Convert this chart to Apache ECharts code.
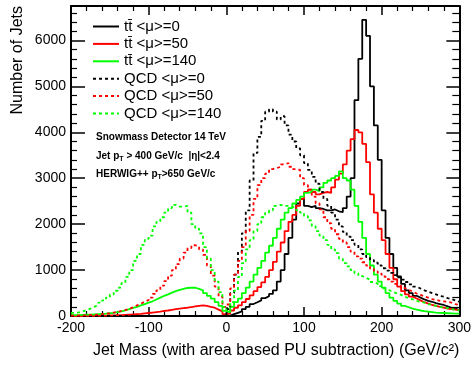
<!DOCTYPE html>
<html>
<head>
<meta charset="utf-8">
<script src="https://cdn.jsdelivr.net/npm/echarts@6/dist/echarts.min.js"></script>
<style>
  * { margin: 0; padding: 0; }
  #chart-container { width: 474px; height: 367px; background: #fff; }
</style>
</head>
<body>
<div id="chart-container"></div>
<script>
  // jet mass histograms, 5 GeV bins from -200 to 300 (left edges)
  var binStart = -200
  var binWidth = 5
  var binCount = 100
  var zeros40 = [0,0,0,0,0,0,0,0,0,0, 0,0,0,0,0,0,0,0,0,0, 0,0,0,0,0,0,0,0,0,0, 0,0,0,0,0,0,0,0,0,0]

  var ttMu0 = zeros40.concat([
    10,40,70,100,150,200,260,300,340,390, 430,480,560,750,1000,1350,1700,2100,2450,2550,
    2400,2370,2400,2350,2330,2300,2300,2320,2280,2260, 2350,2600,3000,4700,5600,6450,6100,5000,4150,3400,
    2300,1700,1350,1050,860,700,560,500,440,400, 360,330,310,280,260,240,210,180,160,130
  ])
  var ttMu50 = [
    0,0,0,5,5,5,10,10,10,15, 15,20,20,25,30,35,40,45,55,65,
    75,85,95,110,120,135,150,160,170,180, 195,210,220,230,220,200,180,140,100,40,
    50,120,180,230,300,370,450,540,630,730, 850,1000,1180,1400,1600,1850,2050,2200,2400,2550,
    2700,2750,2700,2650,2680,2700,2680,2800,2970,3100, 3300,3600,3850,4050,4000,3750,3350,2650,2250,1900,
    1650,1350,1050,800,640,540,470,420,380,340, 300,270,240,220,200,180,160,150,140,130
  ]
  var ttMu140 = [
    20,20,25,30,30,35,40,45,50,60, 70,85,100,120,150,175,200,230,260,290,
    320,360,400,440,470,510,540,570,590,610, 620,615,590,560,500,440,380,300,220,110,
    80,200,300,380,500,620,750,900,1050,1200, 1380,1530,1700,1900,2100,2250,2350,2450,2530,2600,
    2680,2700,2750,2720,2800,2900,2950,3000,3050,3150, 3000,2950,2750,2400,2050,1700,1350,1100,900,750,
    620,500,400,330,270,220,190,160,140,120, 105,95,85,75,70,65,60,55,50,50
  ]
  var qcdMu0 = zeros40.concat([
    150,500,900,1400,1800,2300,2950,3550,3900,4250, 4450,4500,4450,4280,4350,4150,3950,3800,3650,3500,
    3330,3180,3030,2880,2700,2550,2400,2250,2100,1950, 1830,1730,1650,1550,1450,1350,1280,1220,1160,1100,
    1040,990,940,890,840,790,740,690,640,600, 560,530,500,470,440,420,390,370,340,310
  ])
  var qcdMu50 = [
    10,10,15,15,20,25,30,40,50,60, 75,90,110,130,160,190,230,270,310,350,
    400,480,560,660,760,880,1000,1130,1250,1380, 1480,1540,1520,1450,1330,1100,880,640,420,200,
    250,600,900,1200,1500,1850,2200,2550,2850,3000, 3100,3200,3220,3250,3300,3330,3250,3200,3180,3000,
    2850,2750,2600,2450,2320,2150,2020,1900,1780,1680, 1600,1500,1400,1300,1250,1170,1100,1030,970,920,
    860,800,750,700,660,610,570,530,490,460, 430,400,370,350,330,320,310,290,260,240
  ]
  var qcdMu140 = [
    70,80,100,130,160,200,240,290,340,400, 470,550,620,720,850,1000,1200,1350,1550,1680,
    1750,1950,2050,2150,2250,2350,2420,2380,2380,2400, 2250,2000,1900,1800,1500,1250,1000,750,520,200,
    100,300,550,850,1150,1450,1650,1850,2000,2150, 2250,2300,2400,2420,2400,2400,2380,2350,2300,2250,
    2180,2080,1950,1850,1750,1650,1550,1450,1370,1250, 1150,1080,1000,930,870,830,790,740,700,650,
    600,560,520,490,460,420,390,360,330,310, 290,260,240,220,200,185,170,150,135,120
  ]

  var names = [
    'tt\u0304 <\u03bc>=0', 'tt\u0304 <\u03bc>=50', 'tt\u0304 <\u03bc>=140',
    'QCD <\u03bc>=0', 'QCD <\u03bc>=50', 'QCD <\u03bc>=140'
  ]
  var seriesValues = [ttMu0, ttMu50, ttMu140, qcdMu0, qcdMu50, qcdMu140]
  var colors = ['#000000', '#ff0000', '#00ff00', '#000000', '#ff0000', '#00ff00']

  function toSteps(vals) {
    var pts = []
    for (var i = 0; i < binCount; i++) {
      pts.push([binStart + i * binWidth, vals[i]])
    }
    pts.push([binStart + binCount * binWidth, vals[binCount - 1]])
    return pts
  }

  var font = '"Liberation Sans", Arial, Helvetica, sans-serif'
  var chartDom = document.getElementById('chart-container')
  var myChart = echarts.init(chartDom, null, { renderer: 'canvas' })

  var tickCommon = {
    axisLine: { onZero: false, lineStyle: { color: '#000', width: 2 } },
    splitLine: { show: false },
  }

  var option = {
    animation: false,
    backgroundColor: '#fff',
    grid: { left: 71, right: 13, top: 6, bottom: 51 },
    legend: {
      orient: 'vertical',
      left: 87,
      top: 13,
      itemWidth: 26,
      itemHeight: 10,
      itemGap: 0.4,
      selectedMode: false,
      data: names,
      itemStyle: { opacity: 0 },
      textStyle: { fontFamily: font, fontSize: 15, color: '#000', lineHeight: 17 },
    },
    xAxis: [
      Object.assign({
        type: 'value', min: -200, max: 300, interval: 100,
        name: 'Jet Mass (with area based PU subtraction) (GeV/c\u00b2)',
        nameLocation: 'end', nameGap: 0,
        nameTextStyle: { fontFamily: font, fontSize: 16, color: '#000', align: 'right', verticalAlign: 'top', padding: [27, 0, 0, 0] },
        axisTick: { inside: true, length: 9, lineStyle: { color: '#000', width: 1.5 } },
        minorTick: { show: true, splitNumber: 5, length: 5, lineStyle: { color: '#000', width: 1.2 } },
        axisLabel: { fontFamily: font, fontSize: 14, color: '#000', margin: 5 },
      }, tickCommon),
      Object.assign({
        type: 'value', min: -200, max: 300, interval: 100, position: 'top',
        axisTick: { inside: true, length: 9, lineStyle: { color: '#000', width: 1.5 } },
        minorTick: { show: true, splitNumber: 5, length: 5, lineStyle: { color: '#000', width: 1.2 } },
        axisLabel: { show: false },
      }, tickCommon),
    ],
    yAxis: [
      Object.assign({
        type: 'value', min: 0, max: 6750, interval: 1000,
        axisTick: { inside: true, length: 14, lineStyle: { color: '#000', width: 1.5 } },
        minorTick: { show: true, splitNumber: 5, length: 6, lineStyle: { color: '#000', width: 1.2 } },
        axisLabel: {
          fontFamily: font, fontSize: 14, color: '#000', margin: 5, showMaxLabel: false,
          formatter: function (v) { return String(v) },
        },
      }, tickCommon),
      Object.assign({
        type: 'value', min: 0, max: 6750, interval: 1000, position: 'right',
        axisTick: { inside: true, length: 13, lineStyle: { color: '#000', width: 1.5 } },
        minorTick: { show: true, splitNumber: 5, length: 7, lineStyle: { color: '#000', width: 1.2 } },
        axisLabel: { show: false },
      }, tickCommon),
    ],
    graphic: [
      {
        type: 'text', x: 18, y: 6, rotation: Math.PI / 2,
        style: { text: 'Number of Jets', font: '16px ' + font, fill: '#000', textAlign: 'right', textVerticalAlign: 'middle' },
      },
      {
        type: 'text', x: 96, y: 137,
        style: { text: 'Snowmass Detector 14 TeV', font: 'bold 10px ' + font, fill: '#000', textVerticalAlign: 'middle' },
      },
      {
        type: 'text', x: 96, y: 156,
        style: {
          text: '{a|Jet p}{s|T}{a| > 400 GeV/c  |\u03b7|<2.4}',
          textVerticalAlign: 'middle',
          rich: {
            a: { font: 'bold 10px ' + font, fill: '#000', lineHeight: 14 },
            s: { font: 'bold 7px ' + font, fill: '#000', lineHeight: 14, padding: [7, 0, 0, 0] },
          },
        },
      },
      {
        type: 'text', x: 96, y: 174,
        style: {
          text: '{a|HERWIG++ p}{s|T}{a|>650 GeV/c}',
          textVerticalAlign: 'middle',
          rich: {
            a: { font: 'bold 10px ' + font, fill: '#000', lineHeight: 14 },
            s: { font: 'bold 7px ' + font, fill: '#000', lineHeight: 14, padding: [7, 0, 0, 0] },
          },
        },
      },
    ],
    series: seriesValues.map(function (vals, i) {
      return {
        name: names[i],
        type: 'line',
        step: 'end',
        symbol: 'none',
        clip: true,
        data: toSteps(vals),
        color: colors[i],
        lineStyle: {
          color: colors[i],
          width: 1.8,
          type: i < 3 ? 'solid' : [3, 3],
        },
      }
    }),
  }

  myChart.setOption(option)
</script>
</body>
</html>
